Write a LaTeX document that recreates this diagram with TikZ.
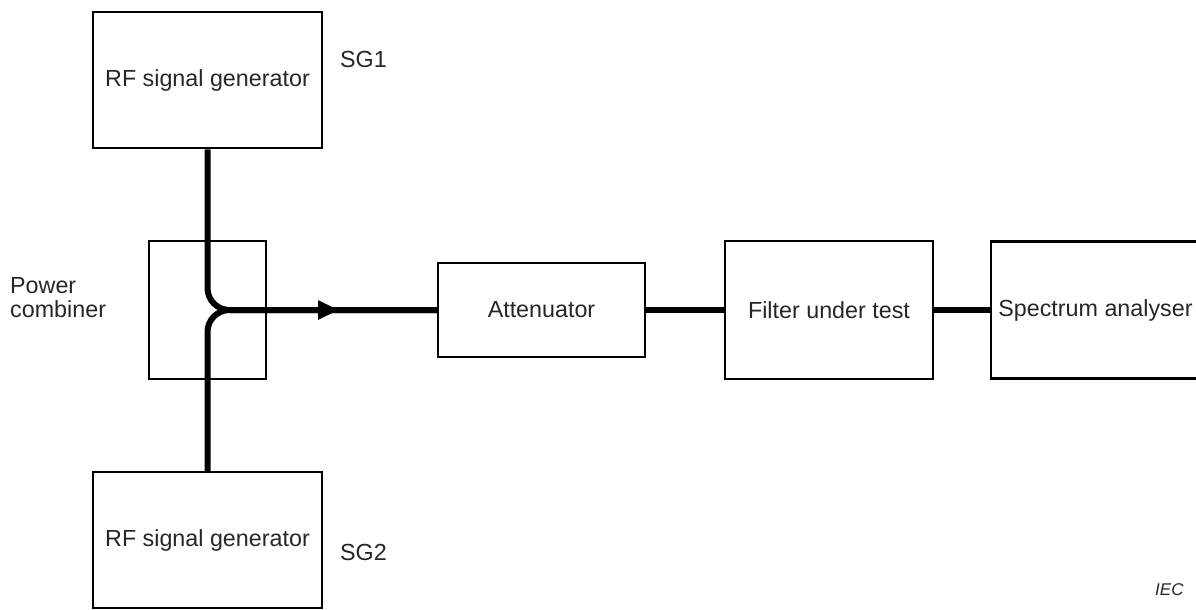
\documentclass[tikz,border=0pt]{standalone}
\usepackage{fontspec}
\setmainfont{Liberation Sans}
\usetikzlibrary{arrows.meta}
\begin{document}
\begin{tikzpicture}[x=1pt,y=-1pt,
  box/.style={draw=black, line width=2.5pt, inner sep=0pt, font=\fontsize{23.3}{27}\selectfont, text=black!85},
  lbl/.style={inner sep=0pt, font=\fontsize{23.3}{24}\selectfont, text=black!85},
  wire/.style={line width=6pt},
]
\useasboundingbox (0,0) rectangle (1196,610);
\node[box, minimum width=229pt, minimum height=136pt] (sg1) at (207.5,80) {RF signal generator};
\node[box, minimum width=229pt, minimum height=136pt] (sg2) at (207.5,540) {RF signal generator};
\node[box, minimum width=117pt, minimum height=138pt] (comb) at (207.5,310) {};
\node[box, minimum width=207pt, minimum height=94pt] (att) at (541.5,310) {Attenuator};
\node[box, minimum width=208pt, minimum height=138pt] (filt) at (829,310) {Filter under test};
\node[box, minimum width=209pt, minimum height=137pt] (spec) at (1095.5,310) {Spectrum analyser};
\coordinate (tip) at (339,310);
\draw[wire, rounded corners=22pt] (sg1.south) |- (att.west);
\draw[wire, rounded corners=22pt] (sg2.north) |- (att.west);
\draw[wire, -{Triangle[length=21pt,width=18pt]}] (comb.east) -- (tip);
\draw[wire] (att.east) -- (filt.west);
\draw[wire] (filt.east) -- (spec.west);
\node[lbl, anchor=base west] (sg1l) at (340,67) {SG1};
\node[lbl, anchor=base west] (sg2l) at (340,560) {SG2};
\node[lbl, anchor=west, align=left] (pc) at (10,298) {Power\\combiner};
\node[anchor=base west, inner sep=0pt, text=black!85, font=\fontsize{17}{20}\selectfont\itshape] (iec) at (1155,595) {IEC};
\end{tikzpicture}
\end{document}
